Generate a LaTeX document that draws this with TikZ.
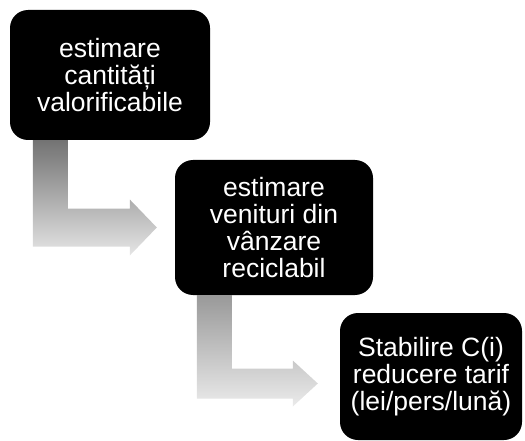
\documentclass[tikz,border=0pt]{standalone}
\usepackage{fontspec}
\setmainfont{Liberation Sans}
\usetikzlibrary{calc}
\begin{document}
\begin{tikzpicture}[x=1pt,y=-1pt,
  box/.style={fill=black, rounded corners=18pt, text=white, align=center,
    font=\fontsize{26.5}{27}\selectfont, inner sep=0pt},
  arrowA/.style={top color=black!55, bottom color=black!10, draw=none},
  arrowB/.style={top color=black!40, bottom color=black!8, draw=none}]
\useasboundingbox (0,0) rectangle (525,441);
\node[box, minimum width=200pt, minimum height=130pt] (b1) at (110,75) {estimare\\cantități\\valorificabile};
\node[box, minimum width=198pt, minimum height=135pt] (b2) at (274,227.5) {estimare\\venituri din\\vânzare\\reciclabil};
\node[box, minimum width=182pt, minimum height=127pt] (b3) at (431,376.5) {Stabilire C(i)\\reducere tarif\\(lei/pers/lună)};
\coordinate (s1) at ($(b1.south west)+(23,0)$);
\coordinate (t1) at ($(b2.west)+(-18,0)$);
\coordinate (s2) at ($(b2.south west)+(22,0)$);
\coordinate (t2) at ($(b3.west)+(-22,7)$);
\path[arrowA] let \p1=(s1), \p2=(t1) in
  (\x1,\y1) -- (\x1+35pt,\y1) -- (\x1+35pt,\y2+19pt) -- (\x2-27pt,\y2+19pt)
  -- (\x2-27pt,\y2+28pt) -- (\x2,\y2) -- (\x2-27pt,\y2-28pt)
  -- (\x2-27pt,\y2-19pt) -- (\x1,\y2-19pt) -- cycle;
\path[arrowB] let \p1=(s2), \p2=(t2) in
  (\x1,\y1) -- (\x1+35pt,\y1) -- (\x1+35pt,\y2+15pt) -- (\x2-25pt,\y2+15pt)
  -- (\x2-25pt,\y2+23pt) -- (\x2,\y2) -- (\x2-25pt,\y2-23pt)
  -- (\x2-25pt,\y2-15pt) -- (\x1,\y2-15pt) -- cycle;
\end{tikzpicture}
\end{document}
